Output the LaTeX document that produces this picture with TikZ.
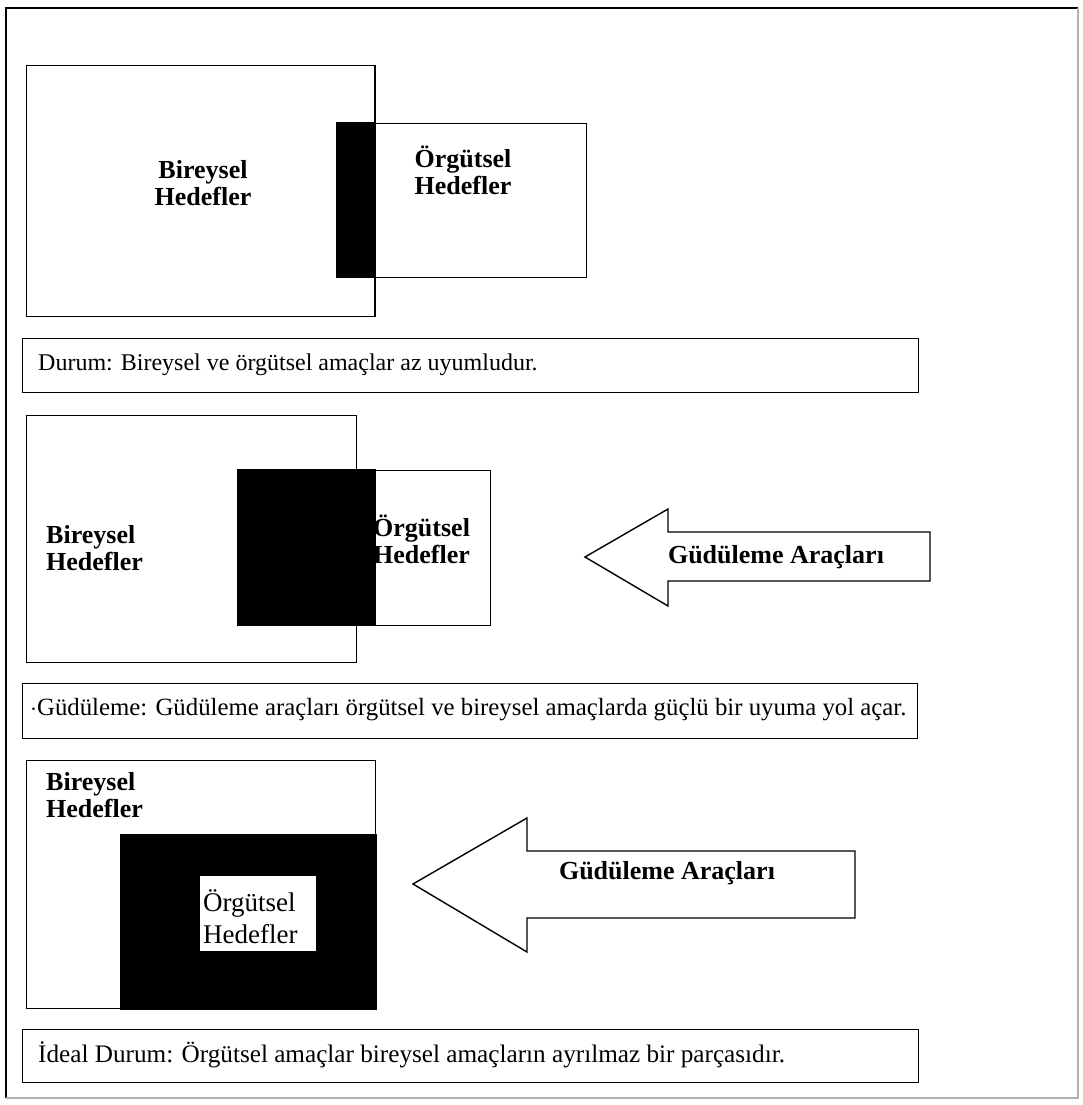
\documentclass[tikz,border=0pt]{standalone}
\usepackage{fontspec}
\setmainfont{Liberation Serif}
\begin{document}
\begin{tikzpicture}[x=1pt,y=-1pt,
  box/.style={draw, line width=1.4pt, inner sep=0pt},
  blk/.style={fill=black, draw=black, line width=1.4pt},
  lab/.style={font=\fontsize{26}{27}\selectfont\bfseries, align=left, inner sep=0pt},
  labc/.style={font=\fontsize{26}{27}\selectfont\bfseries, align=center, inner sep=0pt},
  plaintxt/.style={font=\fontsize{27}{32}\selectfont, align=left, inner sep=0pt},
  captxt/.style={font=\fontsize{24}{26}\selectfont, inner sep=0pt, anchor=west},
  arr/.style={draw, line width=1.4pt, line join=miter, fill=white},
  frame/.style={line width=1.2pt}
]
\useasboundingbox (0,0) rectangle (1082,1105);
% outer frame
\draw[frame] (6,1098) -- (6,8) -- (1078,8);
\draw[frame, gray!60] (1078,8) -- (1078,1098) -- (6,1098);

% ---------- Panel 1 ----------
\node[box, minimum width=349pt, minimum height=251pt, anchor=north west] (b1) at (26,65) {};
\node[box, minimum width=249pt, minimum height=154pt, anchor=north west] (o1) at (337,123) {};
\fill[blk] (o1.north west) rectangle (375,277);
\draw[line width=1.4pt] (375,65) -- (375,316);
\node[labc] (b1t) at (203,183) {Bireysel\\Hedefler};
\node[labc] (o1t) at (463,170) {Örgütsel\\Hedefler};
\node[box, minimum width=896pt, minimum height=54pt, anchor=north west] (c1) at (22,338) {};
\node[captxt] (c1t) at (38,365) {Durum: Bireysel ve örgütsel amaçlar az uyumludur.};

% ---------- Panel 2 ----------
\node[box, minimum width=330pt, minimum height=247pt, anchor=north west] (b2) at (26,415) {};
\node[box, minimum width=252pt, minimum height=155pt, anchor=north west] (o2) at (238,470) {};
\fill[blk] (o2.north west) rectangle (375,625);
\node[lab, anchor=west] (b2t) at (46,548) {Bireysel\\Hedefler};
\node[lab, anchor=west] (o2t) at (373,539) {Örgütsel\\Hedefler};
\coordinate (a1tip) at (585,557);
\draw[arr] (a1tip) -- (668,509) -- (668,532) -- (930,532) -- (930,581) -- (668,581) -- (668,606) -- cycle;
\node[labc] (a1t) at (776,557) {Güdüleme Araçları};
\node[box, minimum width=895pt, minimum height=55pt, anchor=north west] (c2) at (22,683) {};
\node[captxt, font=\fontsize{24.8}{26}\selectfont] (c2t) at (30,710) {$\cdot$Güdüleme: Güdüleme araçları örgütsel ve bireysel amaçlarda güçlü bir uyuma yol açar.};

% ---------- Panel 3 ----------
\node[box, minimum width=349pt, minimum height=248pt, anchor=north west] (b3) at (26,760) {};
\fill[blk] (121,835) rectangle (b3.south east);
\node[fill=white, minimum width=116pt, minimum height=75pt, anchor=north west, inner sep=0pt] (o3) at (200,876) {};
\node[plaintxt, anchor=west] (o3t) at (203,917) {Örgütsel\\Hedefler};
\node[lab, anchor=north west] (b3t) at (46,772) {Bireysel\\Hedefler};
\coordinate (a2tip) at (413,884);
\draw[arr] (a2tip) -- (527,818) -- (527,851) -- (855,851) -- (855,918) -- (527,918) -- (527,952) -- cycle;
\node[labc] (a2t) at (667,873) {Güdüleme Araçları};
\node[box, minimum width=896pt, minimum height=53pt, anchor=north west] (c3) at (22,1029) {};
\node[captxt, font=\fontsize{25.2}{27}\selectfont] (c3t) at (38,1055) {İdeal Durum: Örgütsel amaçlar bireysel amaçların ayrılmaz bir parçasıdır.};
\end{tikzpicture}
\end{document}
